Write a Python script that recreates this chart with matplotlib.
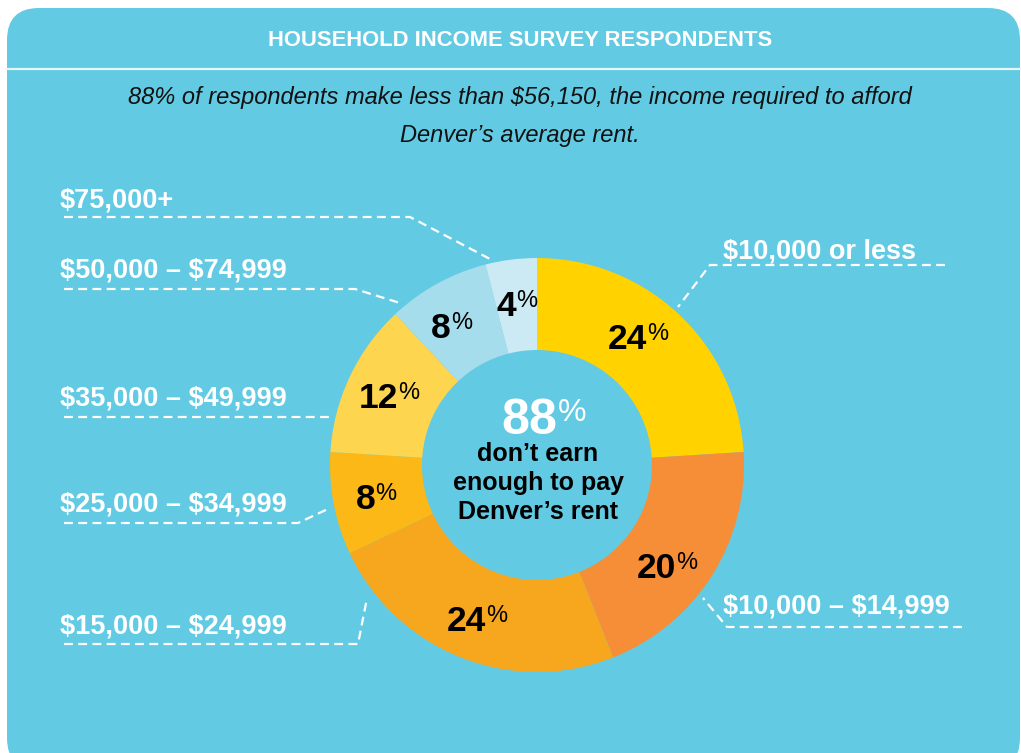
import matplotlib.pyplot as plt
from matplotlib.patches import FancyBboxPatch
import numpy as np

# canvas size in pixels (figure is drawn in pixel units, y measured from the top)
W, H = 1021, 753

brackets = ['$10,000 or less', '$10,000 – $14,999', '$15,000 – $24,999',
            '$25,000 – $34,999', '$35,000 – $49,999', '$50,000 – $74,999',
            '$75,000+']
shares = [24, 20, 24, 8, 12, 8, 4]
colors = ['#FFD200', '#F68E38', '#F7A71E', '#FBB817', '#FED54E', '#A6DDEC', '#CBEAF4']
below_rent = 88

title = 'HOUSEHOLD INCOME SURVEY RESPONDENTS'
subtitle = ['88% of respondents make less than $56,150, the income required to afford',
            'Denver’s average rent.']
center_lines = ['don’t earn', 'enough to pay', 'Denver’s rent']

# label anchor (left x, centre y) and leader line path, in picture coords
label_pos = [(723, 248), (723, 603), (60, 623), (60, 502), (60, 395), (60, 267), (60, 197)]
leaders = [
    [(945, 265), (710, 265), (678, 307)],
    [(962, 627), (727, 627), (703, 598)],
    [(64, 644), (358, 644), (367, 598)],
    [(64, 523), (298, 523), (330, 508)],
    [(64, 417), (330, 417)],
    [(64, 289), (355, 289), (400, 303)],
    [(64, 217), (410, 217), (490, 259)],
]
# small angle shifts (deg) for the % labels inside the ring
nudge = [5, -5, 0, 0, 0, 2.5, 0]

BG = '#62CAE3'
FONT = ['Liberation Sans', 'DejaVu Sans']


def yy(y):
    return H - y


def esc(s):
    return s.replace('$', r'\$')


fig = plt.figure(figsize=(W / 100, H / 100), dpi=100, facecolor='white')
ax = fig.add_axes([0, 0, 1, 1])

# panel
panel = FancyBboxPatch((7, yy(770)), 1013, 762, boxstyle='round,pad=0,rounding_size=32',
                       fc=BG, ec='none', zorder=0)
ax.add_patch(panel)
ax.plot([7, 1020], [yy(69), yy(69)], color='#E6F6FB', lw=1.6, zorder=1)

ax.text(520, yy(40), title, ha='center', va='center', color='white', fontsize=15.8,
        fontweight='bold', family=['Liberation Sans Narrow', 'Liberation Sans', 'DejaVu Sans'])
for i, line in enumerate(subtitle):
    ax.text(520, yy(97 + 38 * i), esc(line), ha='center', va='center', color='#111111',
            fontsize=17, fontstyle='italic', family=FONT)

# donut
cx, cy, R, ring = 537, yy(465), 207, 92
wedges, _ = ax.pie(shares, colors=colors, startangle=90, counterclock=False,
                   center=(cx, cy), radius=R, frame=True,
                   wedgeprops=dict(width=ring, linewidth=0.6, edgecolor='none'))
ax.set_xlim(0, W)
ax.set_ylim(0, H)
ax.set_aspect('equal')
ax.axis('off')

fig.canvas.draw()
renderer = fig.canvas.get_renderer()


def pct_label(x, y, num, size, sub, color):
    # number with a smaller raised % sign, the pair centred on x, digit centre on y
    cap = size / 0.72 * 0.716
    top = y + cap / 2
    t1 = ax.text(0, top, str(num), ha='left', va='top', fontsize=size,
                 fontweight='bold', color=color, family=FONT)
    t2 = ax.text(0, top, '%', ha='left', va='top', fontsize=sub,
                 fontweight='normal', color=color, family=FONT)
    w1 = t1.get_window_extent(renderer).width
    w2 = t2.get_window_extent(renderer).width
    x0 = x - (w1 + w2) / 2
    t1.set_x(x0)
    t2.set_x(x0 + w1)


theta = 90.0
for w, s, dn in zip(wedges, shares, nudge):
    mid = np.deg2rad(theta - s * 3.6 / 2 + dn)
    theta -= s * 3.6
    r = 164
    pct_label(cx + r * np.cos(mid), cy + r * np.sin(mid), s, 25.5, 17, 'black')

# centre text
pct_label(544, yy(416), below_rent, 36, 23, 'white')
for i, line in enumerate(center_lines):
    ax.text(538, yy(454 + 29 * i), line, ha='center', va='center', fontsize=18,
            fontweight='bold', color='black', family=FONT)

# bracket labels and leader lines
for name, (lx, ly), path in zip(brackets, label_pos, leaders):
    ax.text(lx, yy(ly), esc(name), ha='left', va='center_baseline', fontsize=19.5,
            fontweight='bold', color='white', family=FONT)
    px = [p[0] for p in path]
    py = [yy(p[1]) for p in path]
    ax.plot(px, py, color='white', lw=1.6, ls=(0, (4, 2.4)), solid_capstyle='butt')

fig.savefig('out.png', dpi=100, facecolor='white')
